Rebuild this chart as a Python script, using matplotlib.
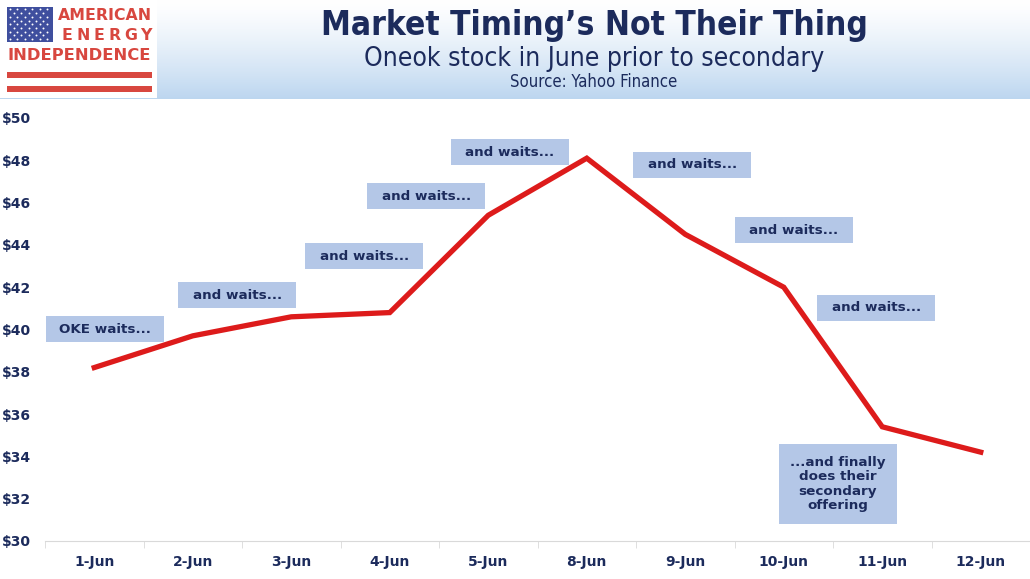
import numpy as np
import matplotlib
matplotlib.use("Agg")
import matplotlib.pyplot as plt
from matplotlib.patches import Rectangle

# data
days = ["1-Jun", "2-Jun", "3-Jun", "4-Jun", "5-Jun", "8-Jun", "9-Jun", "10-Jun", "11-Jun", "12-Jun"]
price = [38.2, 39.7, 40.6, 40.8, 45.4, 48.1, 44.5, 42.0, 35.4, 34.2]

notes = ["OKE waits...", "and waits...", "and waits...", "and waits...", "and waits...",
         "and waits...", "and waits...", "and waits...",
         "...and finally\ndoes their\nsecondary\noffering"]
# note box centres (category index, $) and heights ($)
note_x = [0.11, 1.45, 2.74, 3.37, 4.22, 6.07, 7.10, 7.94, 7.55]
note_y = [40.02, 41.63, 43.47, 46.31, 48.39, 47.78, 44.70, 41.02, 32.70]
note_h = [1.23, 1.23, 1.23, 1.23, 1.23, 1.23, 1.23, 1.23, 3.78]

navy = "#1c2b5c"
W, H = 1030, 579
fig = plt.figure(figsize=(W / 100, H / 100), dpi=100)
fig.patch.set_facecolor("white")

# header band gradient
hd = fig.add_axes([0, 1 - 99 / H, 1, 99 / H])
top = np.array([1.0, 1.0, 1.0])
bot = np.array([0.74, 0.84, 0.94])
t = np.linspace(0, 1, 100)[:, None]
grad = top + (bot - top) * t ** 1.3
img = np.repeat(grad[:, None, :], 2, axis=1)
hd.imshow(img, aspect="auto", extent=[0, 1, 1, 0])
hd.axis("off")

# logo
lg = fig.add_axes([0, 1 - 98 / H, 157 / W, 98 / H])
lg.set_xlim(0, 157)
lg.set_ylim(98, 0)
lg.axis("off")
lg.add_patch(Rectangle((0, 0), 157, 98, facecolor="white", edgecolor="none"))
lg.add_patch(Rectangle((7, 7), 46, 35, facecolor="#3f4f9e", edgecolor="none"))
for r in range(9):
    n = 6 if r % 2 == 0 else 5
    off = 0 if r % 2 == 0 else 3.7
    for c in range(n):
        lg.plot(10 + off + c * 7.4, 9.5 + r * 3.7, "o", ms=1.4, color="white", mec="none")
red = "#d8473f"
lg.text(152, 16, "AMERICAN", color=red, fontsize=11.3, fontweight="bold", ha="right", va="center",
        family="DejaVu Sans")
for i, ch in enumerate("ENERGY"):
    lg.text(67 + i * 15.8, 35, ch, color=red, fontsize=11.3, fontweight="bold", ha="center", va="center",
            family="DejaVu Sans")
lg.text(79.5, 56, "INDEPENDENCE", color=red, fontsize=11.8, fontweight="bold", ha="center", va="center",
        family="DejaVu Sans")
lg.add_patch(Rectangle((7, 72), 145, 5.5, facecolor=red, edgecolor="none"))
lg.add_patch(Rectangle((7, 86), 145, 5.5, facecolor=red, edgecolor="none"))

# titles
fig.text(594 / W, 1 - 26 / H, "Market Timing\u2019s Not Their Thing", ha="center", va="center",
         fontsize=24, fontweight="bold", color=navy, fontstretch="condensed")
fig.text(594 / W, 1 - 59 / H, "Oneok stock in June prior to secondary", ha="center", va="center",
         fontsize=19, color=navy, fontstretch="condensed")
fig.text(594 / W, 1 - 82 / H, "Source: Yahoo Finance", ha="center", va="center",
         fontsize=12, color=navy, fontstretch="condensed")

# main chart
ax = fig.add_axes([45 / W, 38 / H, 1 - 45 / W, (541 - 118) / H])
x = np.arange(len(days))
ax.plot(x, price, color="#dd1b1b", lw=3.8, solid_joinstyle="miter", zorder=3)
ax.set_xlim(-0.5, len(days) - 0.5)
ax.set_ylim(30, 50)
ax.set_yticks(np.arange(30, 51, 2))
ax.set_yticklabels(["$%d" % v for v in np.arange(30, 51, 2)])
ax.set_xticks(x)
ax.set_xticklabels(days)
ax.set_xticks(np.arange(-0.5, len(days), 1), minor=True)
ax.tick_params(axis="x", which="major", length=0, pad=10)
ax.tick_params(axis="x", which="minor", length=5, color="#d9d9d9")
ax.tick_params(axis="y", length=0, pad=10)
for lab in ax.get_xticklabels() + ax.get_yticklabels():
    lab.set_fontweight("bold")
    lab.set_fontsize(10)
    lab.set_color(navy)
for s in ["top", "right", "left"]:
    ax.spines[s].set_visible(False)
ax.spines["bottom"].set_color("#d9d9d9")
ax.set_facecolor("none")

for txt, nx, ny, nh in zip(notes, note_x, note_y, note_h):
    ax.add_patch(Rectangle((nx - 0.6, ny - nh / 2), 1.2, nh, facecolor="#b4c7e7",
                           edgecolor="none", zorder=2))
    ax.text(nx, ny, txt, ha="center", va="center", fontsize=9.7, fontweight="bold",
            color=navy, zorder=4, linespacing=1.15)

fig.savefig("out.png", dpi=100)
